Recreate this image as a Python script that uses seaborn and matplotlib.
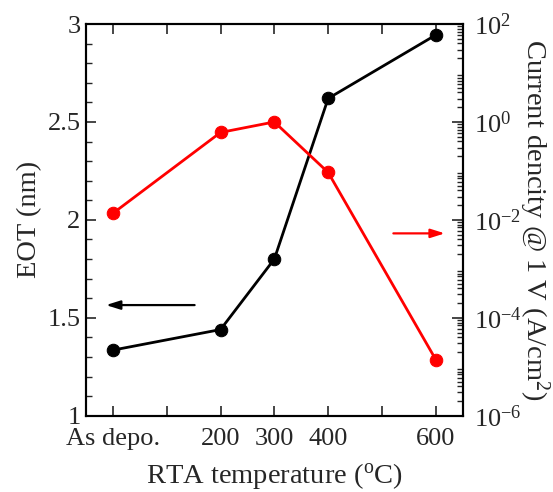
import matplotlib
matplotlib.use("Agg")
import matplotlib.pyplot as plt
import matplotlib.ticker as mticker
import seaborn as sns
import pandas as pd

# RTA temperature (0 = as deposited), EOT and leakage current density at 1 V
temperature = [0, 200, 300, 400, 600]
eot_nm = [1.335, 1.44, 1.80, 2.62, 2.944]
current_density = [1.36e-2, 0.61, 1.0, 9.3e-2, 1.4e-5]
x_tick_positions = [0, 100, 200, 300, 400, 500, 600]
x_tick_labels = ["As depo.", "", "200", "300", "400", "", "600"]

sns.set_theme(style="ticks")
plt.rcParams["font.family"] = ["Liberation Serif", "DejaVu Serif"]
plt.rcParams["mathtext.fontset"] = "custom"
plt.rcParams["mathtext.rm"] = "Liberation Serif"
plt.rcParams["mathtext.it"] = "Liberation Serif:italic"

df = pd.DataFrame({"T": temperature, "EOT": eot_nm, "J": current_density})

fig = plt.figure(figsize=(5.53, 4.92), dpi=100)
fig.patch.set_facecolor("white")
ax = fig.add_axes([0.1555, 0.155, 0.6812, 0.7962])
ax2 = ax.twinx()

sns.lineplot(data=df, x="T", y="EOT", ax=ax, color="black", marker="o",
             markersize=9, linewidth=2, markeredgecolor="black")
sns.lineplot(data=df, x="T", y="J", ax=ax2, color="#ff0000", marker="o",
             markersize=9, linewidth=2, markeredgecolor="#ff0000")

fs = 19
lfs = 20.5
ax.set_xlim(-50, 650)
ax.set_ylim(1, 3)
ax.set_xticks(x_tick_positions)
ax.set_xticklabels(x_tick_labels, fontsize=fs)
ax.set_yticks([1, 1.5, 2, 2.5, 3])
ax.set_yticklabels(["1", "1.5", "2", "2.5", "3"], fontsize=fs)
ax.yaxis.set_minor_locator(mticker.MultipleLocator(0.1))
ax.tick_params(axis="x", which="major", direction="in", length=7, width=1.2,
               top=True, pad=9)
ax.tick_params(axis="y", which="major", direction="in", length=7, width=1.2,
               pad=4)
ax.tick_params(axis="y", which="minor", direction="in", length=4, width=1)
ax.set_xlabel("RTA temperature ($^{\\rm o}$C)", fontsize=lfs, labelpad=8)
ax.set_ylabel("EOT (nm)", fontsize=lfs, labelpad=4)

ax2.set_yscale("log")
ax2.set_ylim(1e-6, 1e2)
ax2.set_yticks([1e-6, 1e-4, 1e-2, 1e0, 1e2])
ax2.yaxis.set_major_formatter(mticker.LogFormatterMathtext())
ax2.yaxis.set_minor_locator(mticker.LogLocator(base=10, subs=range(2, 10), numticks=20))
ax2.yaxis.set_minor_formatter(mticker.NullFormatter())
ax2.tick_params(axis="y", which="major", direction="in", length=8, width=1.2,
                labelsize=fs, pad=8)
ax2.tick_params(axis="y", which="minor", direction="in", length=4, width=1)
ax2.set_ylabel("Current dencity @ 1 V (A/cm$^2$)", fontsize=lfs, rotation=270,
               va="center", ha="center", rotation_mode="anchor")
ax2.yaxis.set_label_coords(1.19, 0.5)
ax2.set_xlabel("")

for a in (ax, ax2):
    for s in a.spines.values():
        s.set_linewidth(1.5)
        s.set_color("black")

# arrows pointing at the axis each curve belongs to
ax.annotate("", xy=(-18, 1.565), xytext=(157, 1.565),
            arrowprops=dict(arrowstyle="-|>,head_length=0.7,head_width=0.22",
                            color="black", lw=1.6))
ax2.annotate("", xy=(622, 5.3e-3), xytext=(516, 5.3e-3),
             arrowprops=dict(arrowstyle="-|>,head_length=0.7,head_width=0.22",
                             color="#ff0000", lw=1.6))

fig.savefig("out.png", dpi=100, facecolor="white")
